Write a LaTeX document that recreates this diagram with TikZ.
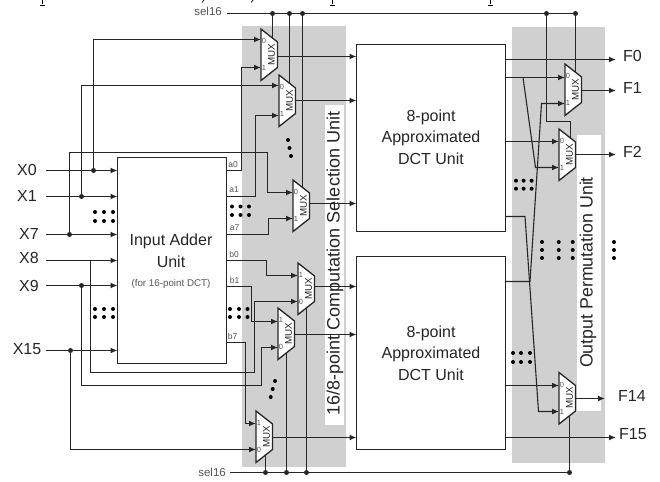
\documentclass[tikz,border=0pt]{standalone}
\usepackage{fontspec}
\setmainfont{Liberation Sans}
\usetikzlibrary{arrows.meta,calc}
\definecolor{panel}{HTML}{D0D0D0}
\definecolor{ink}{HTML}{262626}
\definecolor{soft}{HTML}{555555}
\tikzset{
  wire/.style={draw=ink,line width=1.5pt},
  arr/.style={wire,-{Latex[length=7pt,width=6pt]}},
  slant/.style={arr,line width=1.1pt},
  box/.style={draw=ink,line width=1.5pt,fill=white,inner sep=0pt,outer sep=0pt,align=center,text=ink,font=\fontsize{16}{21.5}\selectfont},
  blocktext/.style={inner sep=0pt,align=center,text=ink,font=\fontsize{16}{21.5}\selectfont},
  lab/.style={text=ink,inner sep=0pt,font=\fontsize{16}{18}\selectfont},
  tiny/.style={text=soft,inner sep=0pt,font=\fontsize{8.5}{10}\selectfont},
  sel/.style={text=soft,inner sep=0pt,font=\fontsize{11.5}{13}\selectfont},
  jn/.style={circle,fill=ink,inner sep=0pt,minimum size=5pt},
  pip/.style={circle,fill=black,inner sep=0pt,minimum size=4pt},
  vlab/.style={rotate=90,text=ink,inner sep=0pt,font=\fontsize{18}{20}\selectfont},
}
% \muxpts{name}{left x}{top y}{upper input y}{lower input y}{output y}
\newcommand{\muxpts}[6]{%
  \coordinate (#1-i0) at (#2,#4);
  \coordinate (#1-i1) at (#2,#5);
  \coordinate (#1-o) at (#2+16.5,#6);
}
% \muxbody{name}{left x}{top y}{upper label}{lower label}
\newcommand{\muxbody}[5]{%
  \draw[draw=ink,line width=1.3pt,fill=white] (#2,#3) -- (#2+16.5,#3+13) -- (#2+16.5,#3+38.5) -- (#2,#3+51.5) -- cycle;
  \node[text=ink,inner sep=0pt,rotate=90,font=\fontsize{9.8}{10}\selectfont] (#1) at (#2+10.5,#3+25.5) {MUX};
  \node[text=soft,inner sep=0pt,font=\fontsize{7.5}{8}\selectfont] (#1-lt) at (#2+3,#3+12) {#4};
  \node[text=soft,inner sep=0pt,font=\fontsize{7.5}{8}\selectfont] (#1-lb) at (#2+3,#3+39) {#5};
}
\begin{document}
\begin{tikzpicture}[x=1pt,y=-1pt]
\useasboundingbox (0,0) rectangle (660,481);
\fill[white] (0,0) rectangle (660,481);
% panels
\fill[panel] (241.5,26) rectangle (346,467);
\fill[panel] (512,27) rectangle (605,463);
\fill[white] (325,105) rectangle (344,425);
\fill[white] (577,135) rectangle (601,411);
% remnants of the cropped line above the figure
\foreach \x in {42,332,490} {
  \draw[black,line width=1pt] (\x,0) -- (\x,4.5);
  \draw[black,line width=0.7pt] (\x-2.5,5) -- (\x+2.5,5);
}
\foreach \x in {203,252}
  \draw[black,line width=0.7pt] (\x+1,0) -- (\x-1,2.5);
% select lines
\coordinate (st) at (227,13.5); \coordinate (ste) at (575.5,13.5);
\coordinate (sb) at (230,472.5); \coordinate (sbe) at (569.5,472.5);
\node[sel,anchor=east] (seltop) at (222,11.5) {sel16};
\node[sel,anchor=east] (selbot) at (226,472) {sel16};
% blocks
\node[box,minimum width=109pt,minimum height=206pt,anchor=north west] (adder) at (117.5,157.5) {};
\node[box,minimum width=149pt,minimum height=187pt,anchor=north west] (dcta) at (356.5,44.5) {};
\node[box,minimum width=149pt,minimum height=193pt,anchor=north west] (dctb) at (356.5,256.5) {};
% input labels
\node[lab] (X0) at (27,170) {X0};
\node[lab] (X1) at (27,196) {X1};
\node[lab] (X7) at (29,234) {X7};
\node[lab] (X8) at (29,258) {X8};
\node[lab] (X9) at (29,286) {X9};
\node[lab] (X15) at (27,349) {X15};
\coordinate (x0s) at (46,170.5); \coordinate (x1s) at (46,196.5); \coordinate (x7s) at (46,234.5);
\coordinate (x8s) at (46,260.5); \coordinate (x9s) at (46,285.5); \coordinate (x15s) at (46,350.5);
% mux ports
\muxpts{ma}{261}{29}{39.5}{67.5}{56.5}
\muxpts{mb}{279}{75}{85.5}{115.5}{100.5}
\muxpts{mc}{293}{180}{192.5}{218.5}{203.5}
\muxpts{md}{298}{263}{275.5}{301.5}{286.5}
\muxpts{me}{278}{308}{321.5}{347.5}{334.5}
\muxpts{mf}{256}{411}{423.5}{449.5}{437.5}
\muxpts{ra}{565}{64}{77.5}{103.5}{90.5}
\muxpts{rb}{559}{129}{141.5}{167.5}{154.5}
\muxpts{rc}{559}{372.5}{385.5}{411.5}{398.5}
% inputs to adder
\foreach \s in {x0s,x1s,x7s,x8s,x9s,x15s}
  \draw[arr] (\s) -- (\s -| adder.west);
% bypass wires
\draw[arr] (x0s -| 93.5,0) |- (ma-i0);
\draw[arr] (x1s -| 81.5,0) |- (mb-i0);
\draw[arr] (x7s -| 69.5,0) |- (267.5,152.5) |- (mc-i0);
\draw[arr] (x8s -| 90.5,0) |- (254.5,372.5) |- (md-i1);
\draw[arr] (x9s -| 81.5,0) |- (261.5,385.5) |- (me-i1);
\draw[arr] (x15s -| 70.5,0) |- (mf-i1);
% adder outputs
\coordinate (a0) at (226.5,170.5); \coordinate (a1) at (226.5,196.5); \coordinate (a7) at (226.5,234.5);
\coordinate (b0) at (226.5,260.5); \coordinate (b1) at (226.5,286.5); \coordinate (b7) at (226.5,342.5);
\draw[arr] (a0) -| (241.5,67.5) |- (ma-i1);
\draw[arr] (a1) -| (255.5,115.5) |- (mb-i1);
\draw[arr] (a7) -| (268.5,218.5) |- (mc-i1);
\draw[arr] (b0) -| (266.5,275.5) |- (md-i0);
\draw[arr] (b1) -| (251.5,321.5) |- (me-i0);
\draw[arr] (b7) -| (245.5,423.5) |- (mf-i0);
% mux outputs
\foreach \m in {ma,mb,mc,md,me,mf}
  \draw[arr] (\m-o) -- (\m-o -| dcta.west);
% select
\draw[wire] (st) -- (ste);
\draw[wire] (sb) -- (sbe);
\draw[wire] (272.5,13.5) -- (272.5,42);
\draw[wire] (289.5,13.5) -- (289.5,88);
\draw[wire] (302.5,13.5) -- (302.5,193);
\draw[wire] (306.5,472.5) -- (306.5,300);
\draw[wire] (286.5,472.5) -- (286.5,345);
\draw[wire] (265.5,472.5) -- (265.5,450);
\draw[wire] (575.5,13.5) -- (575.5,77);
\draw[wire] (546.5,13.5) -- (546.5,121.5) -- (570.5,121.5) -- (570.5,142);
\draw[wire] (569.5,472.5) -- (569.5,410);
% outputs on the right
\draw[arr] (505.5,59.5) -- (616,59.5);
\draw[arr] (505.5,77.5) -- (ra-i0);
\draw[arr] (505.5,141.5) -- (rb-i0);
\draw[slant] (523,77.5) -- (535.5,167.5) -- (rb-i1);
\draw[slant] (505.5,216.5) -- (525,216.5) -- (538.5,411.5) -- (rc-i1);
\draw[slant] (505.5,281.5) -- (530,281.5) -- (541.5,103.5) -- (ra-i1);
\draw[arr] (505.5,385.5) -- (rc-i0);
\draw[arr] (505.5,437.5) -- (616,437.5);
\draw[arr] (ra-o) -- (ra-o -| 616,0);
\draw[arr] (rb-o) -- (rb-o -| 616,0);
\draw[arr] (rc-o) -- (rc-o -| 605,0);
% mux bodies, over the ends of their wires
\muxbody{ma}{261}{29}{0}{1}
\muxbody{mb}{279}{75}{0}{1}
\muxbody{mc}{293}{180}{0}{1}
\muxbody{md}{298}{263}{1}{0}
\muxbody{me}{278}{308}{1}{0}
\muxbody{mf}{256}{411}{1}{0}
\muxbody{ra}{565}{64}{0}{1}
\muxbody{rb}{559}{129}{0}{1}
\muxbody{rc}{559}{372.5}{0}{1}
% block text
\node[blocktext] (adtxt) at (171,251) {Input Adder\\Unit};
\node[text=soft,inner sep=0pt,font=\fontsize{9.8}{11}\selectfont] (adnote) at (171,284) {(for 16-point DCT)};
\node[blocktext] (datxt) at (431,137) {8-point\\Approximated\\DCT Unit};
\node[blocktext] (dbtxt) at (431,353) {8-point\\Approximated\\DCT Unit};
% vertical labels
\node[vlab] (sellab) at (335,263.5) {16/8-point Computation Selection Unit};
\node[vlab,font=\fontsize{17.8}{20}\selectfont] (permlab) at (588,272.5) {Output Permutation Unit};
% output labels
\node[lab,anchor=west] (F0) at (623,56) {F0};
\node[lab,anchor=west] (F1) at (623,88) {F1};
\node[lab,anchor=west] (F2) at (623,152) {F2};
\node[lab,anchor=west] (F14) at (618,396) {F14};
\node[lab,anchor=west] (F15) at (619,434) {F15};
% small port labels
\node[tiny] (la0) at (233,164.5) {a0};
\node[tiny] (la1) at (234,190) {a1};
\node[tiny] (la7) at (234.5,228) {a7};
\node[tiny] (lb0) at (234,254.5) {b0};
\node[tiny] (lb1) at (234.5,280) {b1};
\node[tiny] (lb7) at (232.5,336.5) {b7};
% junctions
\foreach \p in {(93.5,170.5),(81.5,196.5),(69.5,234.5),(81.5,285.5),(70.5,350.5),(272.5,13.5),(289.5,13.5),(302.5,13.5),(546.5,13.5),(575.5,13.5),(265.5,472.5),(286.5,472.5),(306.5,472.5),(569.5,472.5)}
  \node[jn] at \p {};
% ellipsis dots
\foreach \x/\y in {95/212,104/212,113/212,95/221,104/221,113/221,
                   232/206.5,240.5/206.5,249/206.5,232/215,240.5/215,249/215,
                   95/309,104/309,113/309,95/317,104/317,113/317,
                   230/309,239/309,247.5/309,230/317,239/317,247.5/317,
                   288/140,289.5/148,291/156,275/381,272.7/389,270.7/397,
                   516/180.7,523.6/180.7,531.6/180.7,516/188.7,523.6/188.7,531.6/188.7,
                   513/353,521/353,530/353,513/362,521/362,530/362,
                   542/242,558.7/242,572.7/242,614/242,
                   542/250,558.7/250,572.7/250,614/250,
                   542/258,558.7/258,572.7/258,614/258}
  \node[pip] at (\x,\y) {};
\end{tikzpicture}
\end{document}
